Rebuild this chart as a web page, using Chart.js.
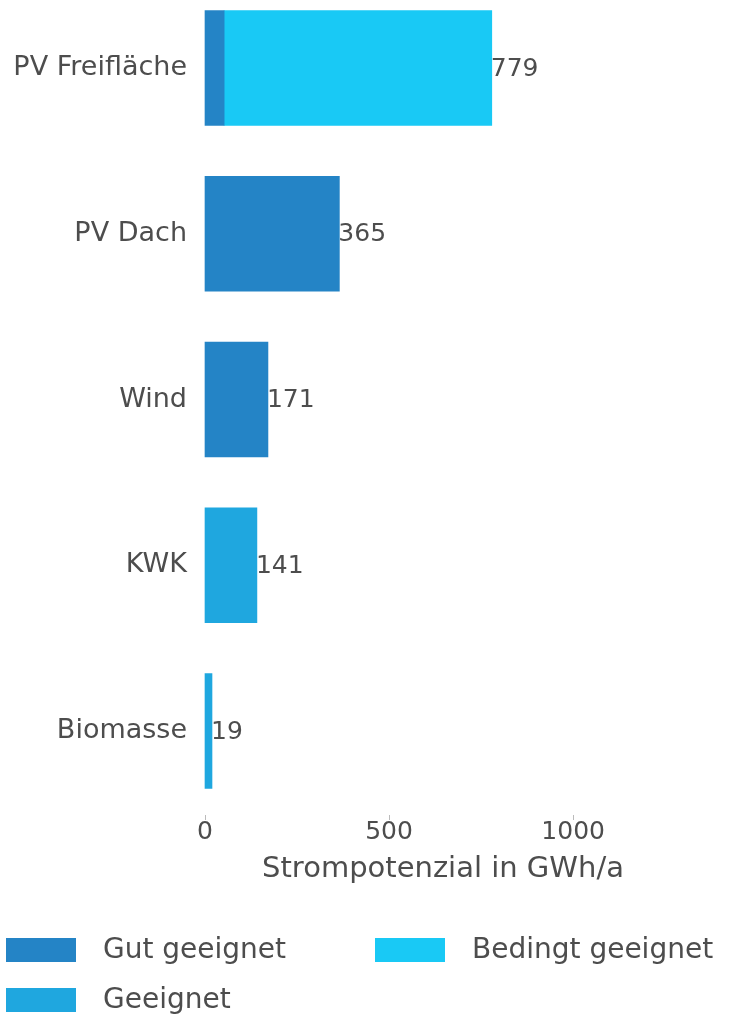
<!DOCTYPE html>
<html>
<head>
<meta charset="utf-8">
<script src="https://cdn.jsdelivr.net/npm/chart.js@4.4.1/dist/chart.umd.min.js"></script>
<style>
  html, body { margin: 0; padding: 0; background: #fff; }
  #wrap { width: 745px; height: 1018px; position: relative; }
</style>
</head>
<body>
<div id="wrap"><canvas id="chart"></canvas></div>
<script>
// categories and series (GWh/a)
const categories = ["PV Freifläche", "PV Dach", "Wind", "KWK", "Biomasse"];
const gutGeeignet = [52, 365, 171, null, null];
const bedingtGeeignet = [727, null, null, null, null];
const geeignet = [null, null, null, 141, 19];
const xTicks = [0, 500, 1000];

const textColor = "#4d4d4d";
const fontFamily = "'DejaVu Sans', sans-serif";

// total value at the end of each bar
const totalLabels = {
  id: "totalLabels",
  afterDatasetsDraw(chart) {
    const ctx = chart.ctx;
    const xs = chart.scales.x, ys = chart.scales.y;
    ctx.save();
    ctx.font = "25px " + fontFamily;
    ctx.fillStyle = textColor;
    ctx.textAlign = "left";
    ctx.textBaseline = "middle";
    categories.forEach((c, i) => {
      let total = 0;
      chart.data.datasets.forEach(ds => { total += ds.data[i] || 0; });
      ctx.fillText(String(total), xs.getPixelForValue(total) - 1, ys.getPixelForValue(i) + 1);
    });
    ctx.restore();
  }
};

// small tick marks above the x labels
const tickMarks = {
  id: "tickMarks",
  afterDraw(chart) {
    const ctx = chart.ctx;
    const xs = chart.scales.x;
    ctx.save();
    ctx.strokeStyle = "#bbb";
    ctx.lineWidth = 1;
    xs.ticks.forEach(t => {
      const px = Math.round(xs.getPixelForValue(t.value)) + 0.5;
      ctx.beginPath();
      ctx.moveTo(px, xs.top + 84);
      ctx.lineTo(px, xs.top + 89);
      ctx.stroke();
    });
    ctx.restore();
  }
};

// legend in two columns under the chart
const gridLegend = {
  id: "gridLegend",
  afterDraw(chart) {
    const ctx = chart.ctx;
    const cols = [6, 375];
    const rowTop = 950, rowStep = 50;
    ctx.save();
    ctx.font = "28px " + fontFamily;
    ctx.textBaseline = "middle";
    ctx.textAlign = "left";
    chart.data.datasets.forEach((ds, i) => {
      const x = cols[i % 2];
      const y = rowTop + Math.floor(i / 2) * rowStep;
      ctx.fillStyle = ds.backgroundColor;
      ctx.fillRect(x, y - 12, 70, 24);
      ctx.fillStyle = textColor;
      ctx.fillText(ds.label, x + 97, y + 1);
    });
    ctx.restore();
  }
};

new Chart(document.getElementById("chart"), {
  type: "bar",
  data: {
    labels: categories,
    datasets: [
      { label: "Gut geeignet", data: gutGeeignet, backgroundColor: "#2484c6" },
      { label: "Bedingt geeignet", data: bedingtGeeignet, backgroundColor: "#19c9f5" },
      { label: "Geeignet", data: geeignet, backgroundColor: "#1fa7df" }
    ]
  },
  options: {
    indexAxis: "y",
    responsive: true,
    maintainAspectRatio: false,
    animation: false,
    layout: { padding: { top: 68, left: 0, right: 0, bottom: 113 } },
    datasets: { bar: { barThickness: 115, clip: false, borderWidth: 0 } },
    plugins: {
      legend: { display: false },
      tooltip: { enabled: false }
    },
    scales: {
      x: {
        stacked: true,
        min: 0,
        max: 1293,
        grid: { display: false, drawTicks: false },
        border: { display: false },
        afterBuildTicks: s => { s.ticks = xTicks.map(v => ({ value: v })); },
        afterFit: s => { s.height = 174; },
        ticks: {
          padding: 86,
          color: textColor,
          font: { family: fontFamily, size: 25 },
          callback: v => String(v)
        },
        title: {
          display: true,
          text: "Strompotenzial in GWh/a",
          color: textColor,
          font: { family: fontFamily, size: 29 },
          padding: { top: 0, bottom: 18 }
        }
      },
      y: {
        stacked: true,
        offset: false,
        grid: { display: false, drawTicks: false },
        border: { display: false },
        afterFit: s => { s.width = 205; },
        ticks: {
          padding: 18,
          color: textColor,
          font: { family: fontFamily, size: 27 }
        }
      },
      yRight: {
        type: "category",
        position: "right",
        labels: categories,
        grid: { display: false, drawTicks: false },
        border: { display: false },
        ticks: { display: false },
        afterFit: s => { s.width = 64; }
      }
    }
  },
  plugins: [totalLabels, tickMarks, gridLegend]
});
</script>
</body>
</html>
